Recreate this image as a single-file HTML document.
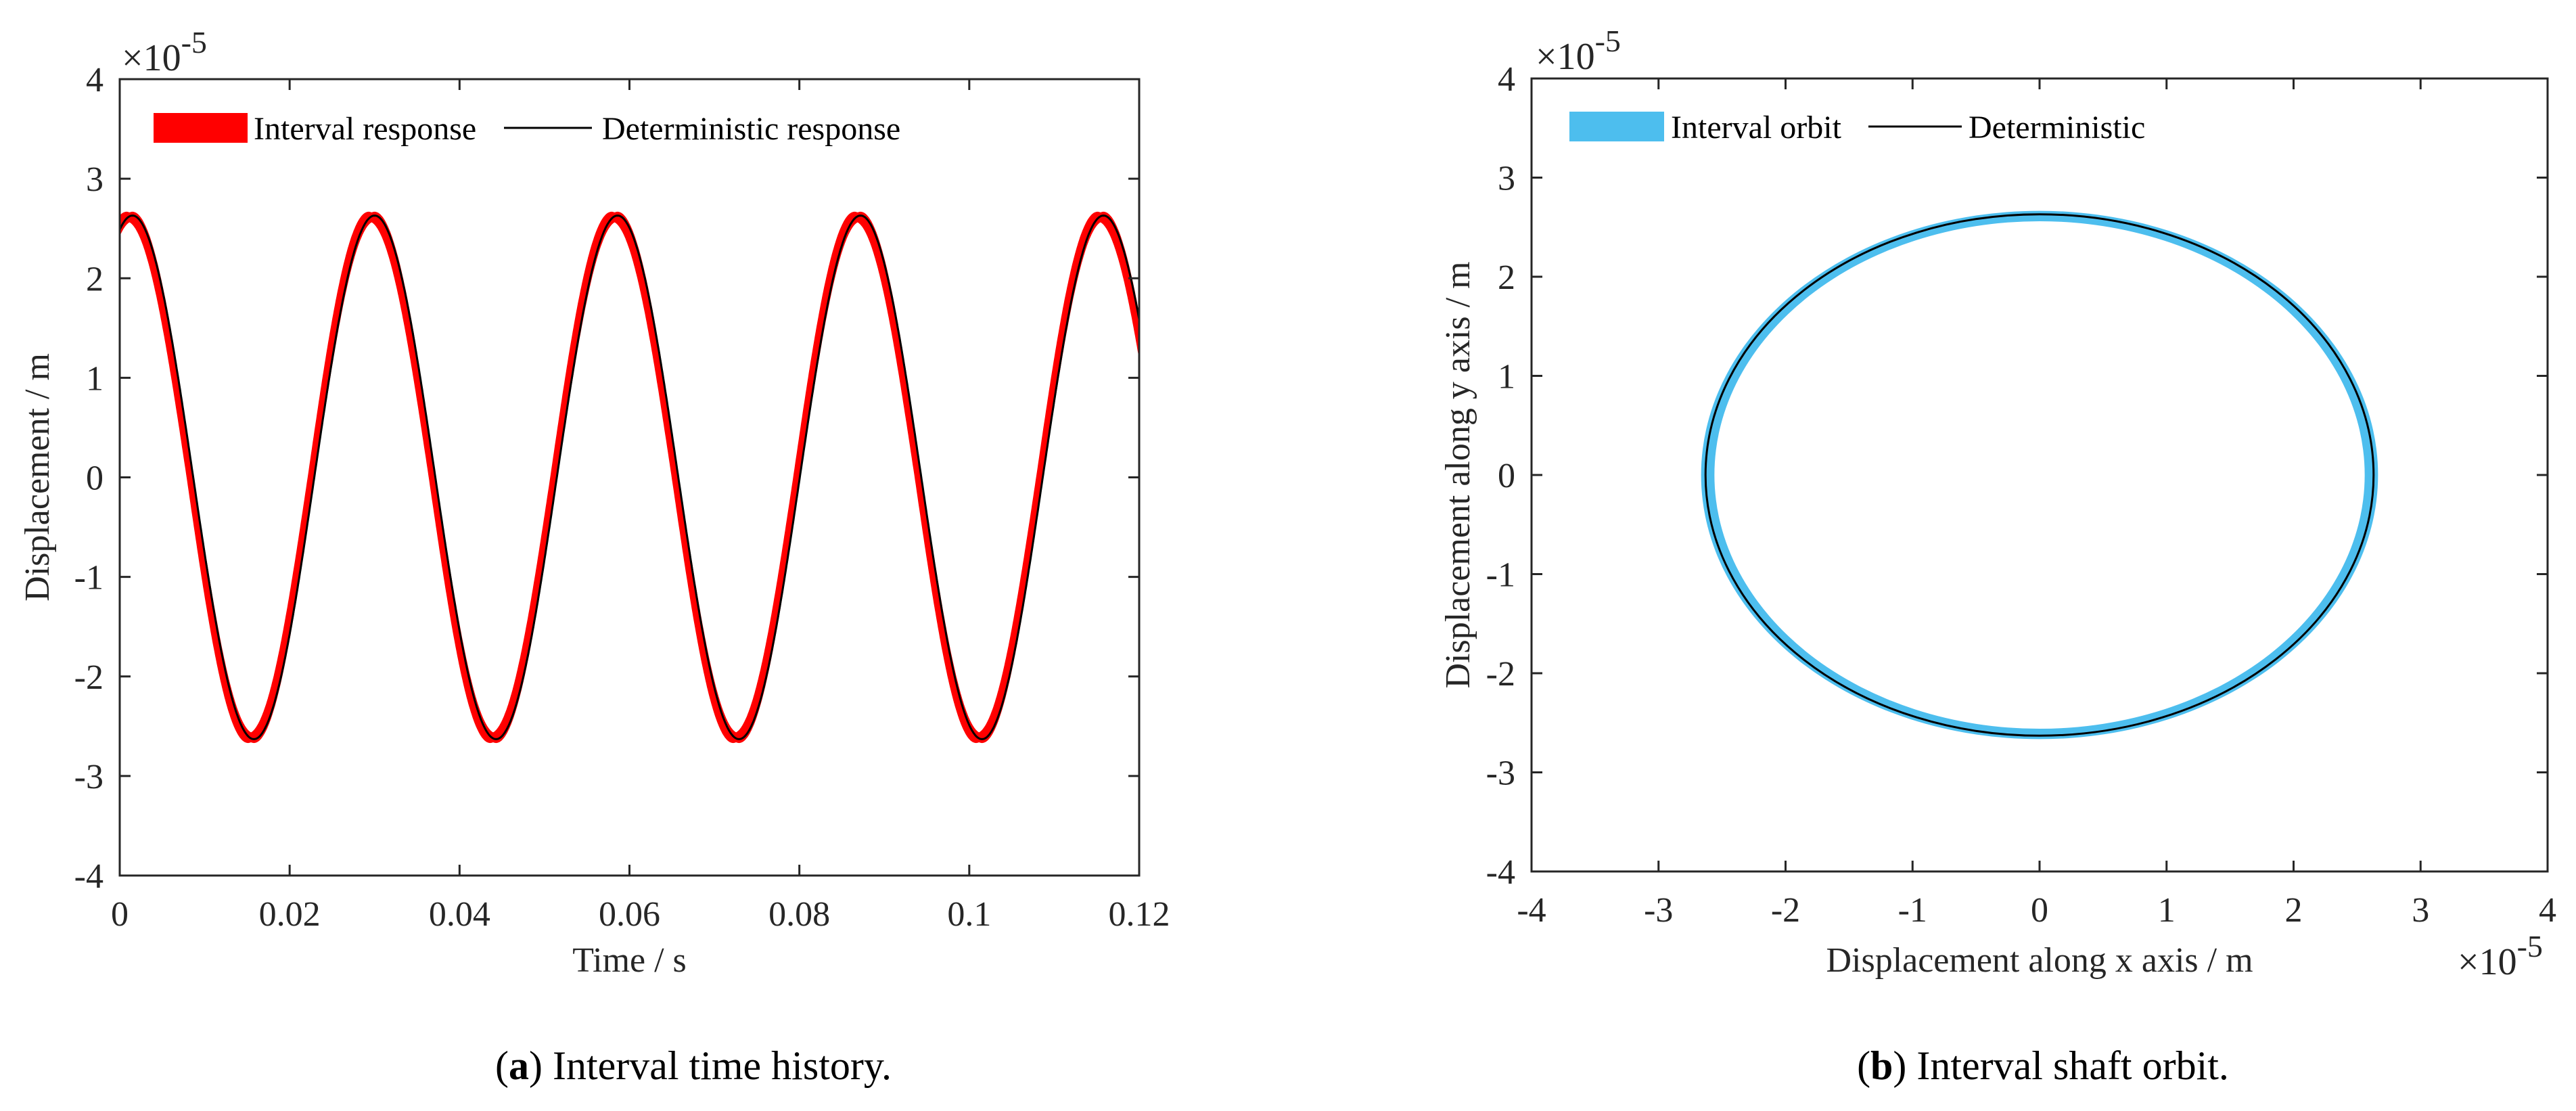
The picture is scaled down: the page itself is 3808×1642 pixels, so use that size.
<!DOCTYPE html>
<html><head><meta charset="utf-8"><style>
body{margin:0;background:#fff}
svg text{font-family:"Liberation Serif",serif;fill:#262626}
</style></head><body>
<svg id="fig" width="3808" height="1637" xmlns="http://www.w3.org/2000/svg">
<rect width="3808" height="1637" fill="#fff"/>
<g id="left"></g>
<g id="right"></g>
<text x="1025" y="1595" font-size="60" text-anchor="middle" style="fill:#000">(<tspan font-weight="bold">a</tspan>) Interval time history.</text>
<text x="3020" y="1595" font-size="60" text-anchor="middle" style="fill:#000">(<tspan font-weight="bold">b</tspan>) Interval shaft orbit.</text>
</svg>
<script>
// ---- Chart A data ----
const xTicksA = [0, 0.02, 0.04, 0.06, 0.08, 0.1, 0.12];
const xTickLabelsA = ["0", "0.02", "0.04", "0.06", "0.08", "0.1", "0.12"];
const yTicks = [-4, -3, -2, -1, 0, 1, 2, 3, 4];
const yTickLabels = ["-4", "-3", "-2", "-1", "0", "1", "2", "3", "4"];
const extremaTimes = [-0.0128, 0.0015, 0.0158, 0.0300, 0.0443, 0.0586, 0.0729, 0.0872, 0.1015, 0.1158, 0.1301];
const extremaValues = [-2.63, 2.63, -2.63, 2.63, -2.63, 2.63, -2.63, 2.63, -2.63, 2.63, -2.63];
const bandShifts = [-0.0007, 0.0];
const bandScales = [0.98, 1.012];
// ---- Chart B data ----
const xTicksB = [-4, -3, -2, -1, 0, 1, 2, 3, 4];
const xTickLabelsB = ["-4", "-3", "-2", "-1", "0", "1", "2", "3", "4"];
const orbitRadiusX = [2.63];
const orbitRadiusY = [2.63];
const orbitBandInner = [2.56];
const orbitBandOuter = [2.665];

const NS = "http://www.w3.org/2000/svg";
function mk(tag, attrs, parent){const e=document.createElementNS(NS,tag);for(const k in attrs)e.setAttribute(k,attrs[k]);parent.appendChild(e);return e;}

function detVal(t){
  for(let i=0;i<extremaTimes.length-1;i++){
    const a=extremaTimes[i],b=extremaTimes[i+1];
    if(t>=a&&t<=b){const f=(t-a)/(b-a);const va=extremaValues[i],vb=extremaValues[i+1];
      return (va+vb)/2+(va-vb)/2*Math.cos(Math.PI*f);}
  }
  return 0;
}

function axes(g, L, R, T, B, xt, xl, sx, yt, yl, sy){
  mk("rect",{x:L,y:T,width:R-L,height:B-T,fill:"none",stroke:"#262626","stroke-width":3},g);
  xt.forEach((v,i)=>{
    const x=sx(v);
    const t=mk("line",{x1:x,x2:x,y1:B,y2:B-16,stroke:"#262626","stroke-width":3},g);
    
    
    mk("line",{x1:x,x2:x,y1:T,y2:T+16,stroke:"#262626","stroke-width":3},g);
    const lb=mk("text",{x:x,y:B+74,"font-size":52,"text-anchor":"middle"},g);lb.textContent=xl[i];
    
    
  });
  yt.forEach((v,i)=>{
    const y=sy(v);
    const t=mk("line",{x1:L,x2:L+16,y1:y,y2:y,stroke:"#262626","stroke-width":3},g);
    
    
    mk("line",{x1:R,x2:R-16,y1:y,y2:y,stroke:"#262626","stroke-width":3},g);
    const lb=mk("text",{x:L-24,y:y+18,"font-size":52,"text-anchor":"end"},g);lb.textContent=yl[i];
    
    
  });
}

// ---- Chart A ----
(function(){
  const g=document.getElementById("left");
  const L=177,R=1684,T=117,B=1294;
  const sx=v=>L+(v-0)/(0.12)*(R-L);
  const sy=v=>B-(v+4)/8*(B-T);
  const clip=mk("clipPath",{id:"clipA"},g);mk("rect",{x:L,y:T,width:R-L,height:B-T},clip);
  const N=1200;let up=[],lo=[],det=[];
  for(let i=0;i<=N;i++){
    const t=0.12*i/N;let mx=-1e9,mn=1e9;
    bandShifts.forEach(s=>bandScales.forEach(k=>{const v=k*detVal(t-s);if(v>mx)mx=v;if(v<mn)mn=v;}));
    up.push(sx(t).toFixed(1)+","+sy(mx).toFixed(1));lo.push(sx(t).toFixed(1)+","+sy(mn).toFixed(1));
    det.push(sx(t).toFixed(1)+","+sy(detVal(t)).toFixed(1));
  }
  const band=mk("polygon",{points:up.concat(lo.reverse()).join(" "),fill:"#ff0000",stroke:"#ff0000","stroke-width":2,"clip-path":"url(#clipA)"},g);
  
  
  const ln=mk("polyline",{points:det.join(" "),fill:"none",stroke:"#000","stroke-width":3,"clip-path":"url(#clipA)"},g);
  
  
  axes(g,L,R,T,B,xTicksA,xTickLabelsA,sx,yTicks,yTickLabels,sy);
  let t=mk("text",{x:180,y:104,"font-size":56},g);t.innerHTML='×10<tspan dy="-26" font-size="46">-5</tspan>';
  
  
  t=mk("text",{x:(L+R)/2,y:1436,"font-size":52,"text-anchor":"middle"},g);t.textContent="Time / s";
  
  
  t=mk("text",{x:0,y:0,"font-size":52,"text-anchor":"middle",transform:`translate(72,${(T+B)/2}) rotate(-90)`},g);t.textContent="Displacement / m";
  
  
  const lg=mk("g",{},g);
  
  
  mk("rect",{x:227,y:167,width:139,height:44,fill:"#ff0000"},lg);
  t=mk("text",{x:375,y:206,"font-size":48,style:"fill:#000"},lg);t.textContent="Interval response";
  mk("line",{x1:745,x2:875,y1:189,y2:189,stroke:"#000","stroke-width":3},lg);
  t=mk("text",{x:890,y:206,"font-size":48,style:"fill:#000"},lg);t.textContent="Deterministic response";
})();

// ---- Chart B ----
(function(){
  const g=document.getElementById("right");
  const L=2264,R=3766,T=116,B=1288;
  const sx=v=>L+(v+4)/8*(R-L);
  const sy=v=>B-(v+4)/8*(B-T);
  const cx=sx(0),cy=sy(0);
  const rxO=sx(orbitBandOuter[0])-cx, ryO=cy-sy(orbitBandOuter[0]);
  const rxI=sx(orbitBandInner[0])-cx, ryI=cy-sy(orbitBandInner[0]);
  const band=mk("path",{d:`M${cx-rxO},${cy}a${rxO},${ryO} 0 1,0 ${2*rxO},0a${rxO},${ryO} 0 1,0 ${-2*rxO},0Z M${cx-rxI},${cy}a${rxI},${ryI} 0 1,1 ${2*rxI},0a${rxI},${ryI} 0 1,1 ${-2*rxI},0Z`,fill:"#4DBEEE","fill-rule":"evenodd"},g);
  
  
  const el=mk("ellipse",{cx:cx,cy:cy,rx:sx(orbitRadiusX[0])-cx,ry:cy-sy(orbitRadiusY[0]),fill:"none",stroke:"#000","stroke-width":3},g);
  
  
  axes(g,L,R,T,B,xTicksB,xTickLabelsB,sx,yTicks,yTickLabels,sy);
  let t=mk("text",{x:2270,y:102,"font-size":56},g);t.innerHTML='×10<tspan dy="-26" font-size="46">-5</tspan>';
  
  
  t=mk("text",{x:3633,y:1440,"font-size":56},g);t.innerHTML='×10<tspan dy="-26" font-size="46">-5</tspan>';
  
  
  t=mk("text",{x:(L+R)/2,y:1436,"font-size":52,"text-anchor":"middle"},g);t.textContent="Displacement along x axis / m";
  
  
  t=mk("text",{x:0,y:0,"font-size":52,"text-anchor":"middle",transform:`translate(2172,${(T+B)/2}) rotate(-90)`},g);t.textContent="Displacement along y axis / m";
  
  
  const lg=mk("g",{},g);
  
  
  mk("rect",{x:2320,y:165,width:140,height:44,fill:"#4DBEEE"},lg);
  t=mk("text",{x:2470,y:204,"font-size":48,style:"fill:#000"},lg);t.textContent="Interval orbit";
  mk("line",{x1:2762,x2:2900,y1:187,y2:187,stroke:"#000","stroke-width":3},lg);
  t=mk("text",{x:2910,y:204,"font-size":48,style:"fill:#000"},lg);t.textContent="Deterministic";
})();
</script>
</body></html>
